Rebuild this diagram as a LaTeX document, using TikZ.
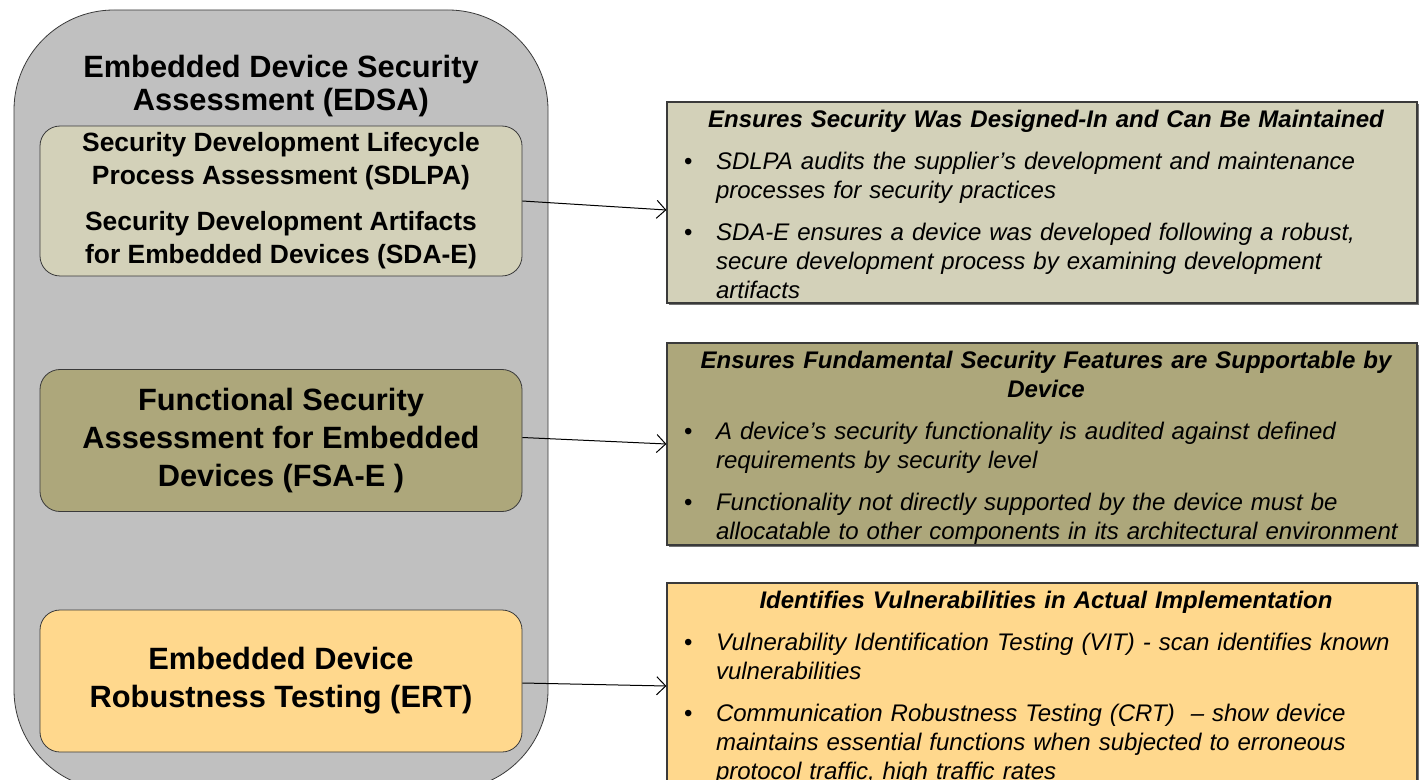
\documentclass[tikz,border=0pt]{standalone}
\usepackage{fontspec}
\setmainfont{Liberation Sans}
\usepackage{xcolor}
\usetikzlibrary{positioning, arrows.meta, shadows}
\definecolor{edsagray}{HTML}{C0C0C0}
\definecolor{sdlkhaki}{HTML}{D3D1B9}
\definecolor{fsaolive}{HTML}{ADA77B}
\definecolor{ertorange}{HTML}{FFD88D}
\definecolor{edgegray}{HTML}{3A3A3A}

% one bullet line of an info box, hanging indent under the text
\newcommand{\bitem}[1]{\par\vspace{6.5pt}\hyphenpenalty=10000
  \hangindent=16pt\hangafter=1\noindent
  \makebox[16pt][l]{\normalfont\textbullet}#1\par}

\begin{document}
\begin{tikzpicture}[x=0.5pt, y=-0.5pt,
    stagebox/.style={draw=edgegray, rounded corners=10pt, minimum width=241pt,
      minimum height=71pt, align=center, font=\bfseries\fontsize{15.4}{19}\selectfont},
    infobox/.style={draw=edgegray, line width=0.6pt, minimum width=375pt,
      drop shadow={shadow xshift=0.8pt, shadow yshift=-0.8pt, fill=black!55, opacity=1}},
    infotext/.style={inner sep=0pt, text width=362pt, xshift=2pt,
      font=\itshape\fontsize{12}{14.5}\selectfont},
    flowarrow/.style={draw=black, line width=0.5pt, -{Straight Barb[length=4.5pt, width=9pt]}}]
  \clip (0,0) rectangle (1423,780);

  % EDSA container
  \draw[draw=edgegray, fill=edsagray, rounded corners=50pt] (14,10) rectangle (548,790);
  \node[align=center, font=\bfseries\fontsize{15.4}{16.5}\selectfont] (edsa) at (281,86)
    {Embedded Device Security\\Assessment (EDSA)};

  % the three parts of the assessment
  \node[stagebox, fill=sdlkhaki, font=\bfseries\fontsize{13.2}{16.5}\selectfont] (sdlpa) at (281,201)
    {Security Development Lifecycle\\Process Assessment (SDLPA)\\[6.5pt]
     Security Development Artifacts\\for Embedded Devices (SDA-E)};
  \node[stagebox, fill=fsaolive] (fsae) at (281,440.5)
    {Functional Security\\Assessment for Embedded\\Devices (FSA-E )};
  \node[stagebox, fill=ertorange] (ert) at (281,681)
    {Embedded Device\\Robustness Testing (ERT)};

  % info boxes on the right
  \node[infobox, fill=sdlkhaki, minimum height=100.5pt] (info1) at (1042,202.5) {};
  \node[infobox, fill=fsaolive, minimum height=101pt] (info2) at (1042,444) {};
  \node[infobox, fill=ertorange, minimum height=103pt] (info3) at (1042,686) {};

  \node[infotext, below=4pt of info1.north] (text1) {%
    {\centering\bfseries Ensures Security Was Designed-In and Can Be Maintained\par}
    \raggedright
    \bitem{SDLPA audits the supplier’s development and maintenance processes for security practices}
    \bitem{SDA-E ensures a device was developed following a robust, secure development process by examining development artifacts}};
  \node[infotext, below=4pt of info2.north] (text2) {%
    {\centering\bfseries Ensures Fundamental Security Features are Supportable by\\Device\par}
    \raggedright
    \bitem{A device’s security functionality is audited against defined requirements by security level}
    \bitem{Functionality not directly supported by the device must be allocatable to other components in its architectural environment}};
  \node[infotext, below=4pt of info3.north] (text3) {%
    {\centering\bfseries Identifies Vulnerabilities in Actual Implementation\par}
    \raggedright
    \bitem{Vulnerability Identification Testing (VIT) - scan identifies known vulnerabilities}
    \bitem{Communication Robustness Testing (CRT) \ – show device maintains essential functions when subjected to erroneous protocol traffic, high traffic rates}};

  % connectors
  \draw[flowarrow] (sdlpa.east) -- ([yshift=-3.75pt]info1.west);
  \draw[flowarrow] ([yshift=1.5pt]fsae.east) -- (info2.west);
  \draw[flowarrow] ([yshift=-1pt]ert.east) -- (info3.west);
\end{tikzpicture}
\end{document}
